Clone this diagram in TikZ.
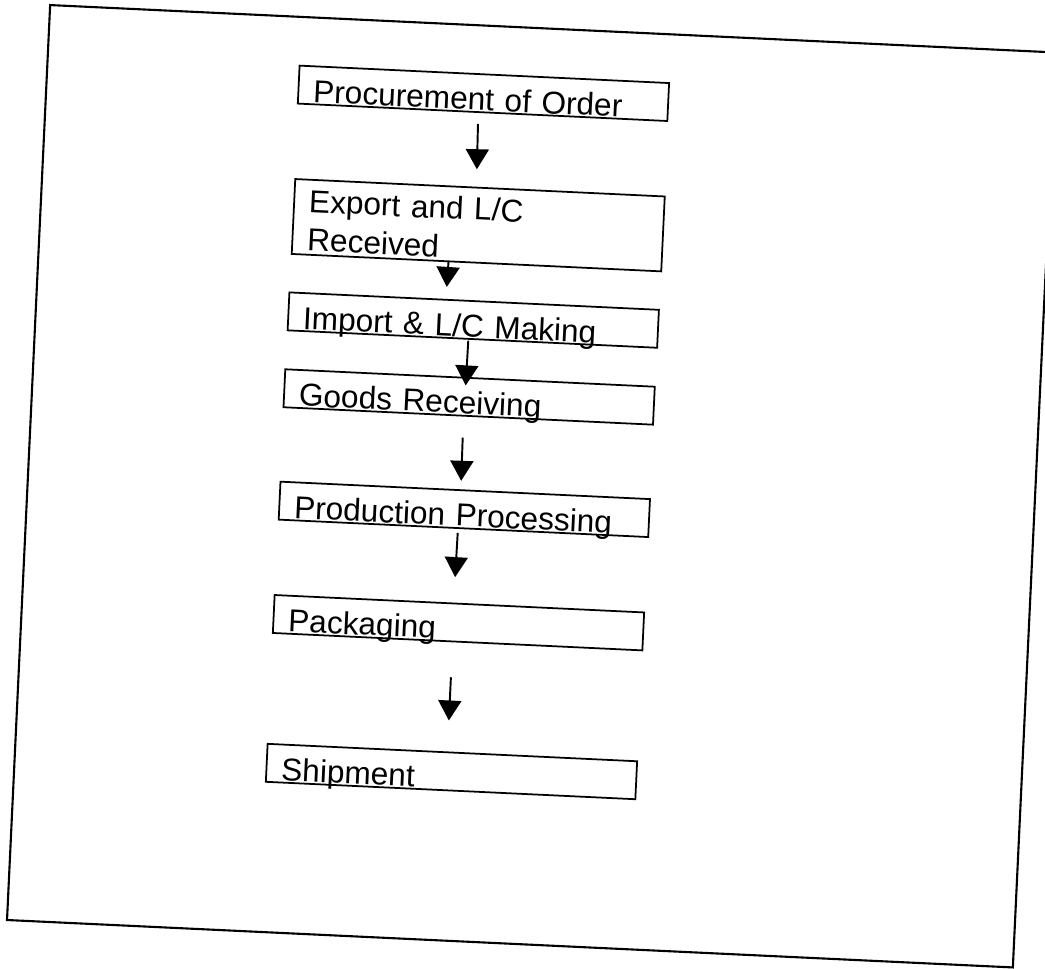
\documentclass[tikz,border=0pt]{standalone}
\usepackage{fontspec}
\setmainfont{Liberation Sans}
\usetikzlibrary{arrows.meta}
\tikzset{
  stage/.style={draw,line width=1pt,minimum width=7.4cm,minimum height=0.76cm,
    inner xsep=0.3cm,inner ysep=0pt,text width=6.8cm,align=left,
    text height=0.68cm,text depth=0pt,font=\fontsize{18pt}{22pt}\selectfont,transform shape},
  flow/.style={-{Triangle[width=0.46cm,length=0.4cm]},line width=1.1pt}
}
\begin{document}
\begin{tikzpicture}[x=0.02cm,y=-0.02cm]
\clip (0,0) rectangle (1045,969);
\begin{scope}[rotate around={-2.7:(531.5,486.25)}]
\draw[line width=1.2pt] (28,28.25) rectangle (1035,944.25);
\node[stage] (order) at (465,96) {Procurement of Order};
\node[stage,minimum height=1.5cm,text height=0.58cm,text depth=0.78cm] (export) at (466,228) {Export and L/C\\Received};
\node[stage] (import) at (465.5,323) {Import \& L/C Making};
\node[stage] (goods) at (465,400) {Goods Receiving};
\node[stage] (prod) at (465.5,512.5) {Production Processing};
\node[stage] (pack) at (465,626) {Packaging};
\node[stage] (ship) at (465,775) {Shipment};
\draw[flow] ([xshift=-0.08cm,yshift=-0.22cm]order.south) -- ([xshift=-0.08cm,yshift=0.35cm]export.north);
\draw[flow] ([xshift=-0.56cm]export.south) -- ([xshift=-0.56cm,yshift=0.24cm]import.north);
\draw[flow] ([xshift=-0.08cm,yshift=-0.02cm]import.south) -- ([xshift=-0.08cm,yshift=-0.17cm]goods.north);
\draw[flow] ([xshift=-0.09cm,yshift=-0.42cm]goods.south) -- ([xshift=-0.09cm,yshift=0.17cm]prod.north);
\draw[flow] ([xshift=-0.11cm,yshift=-0.08cm]prod.south) -- ([xshift=-0.11cm,yshift=0.51cm]pack.north);
\draw[flow] ([xshift=-0.10cm,yshift=-0.70cm]pack.south) -- ([xshift=-0.10cm,yshift=0.62cm]ship.north);
\end{scope}
\end{tikzpicture}
\end{document}
